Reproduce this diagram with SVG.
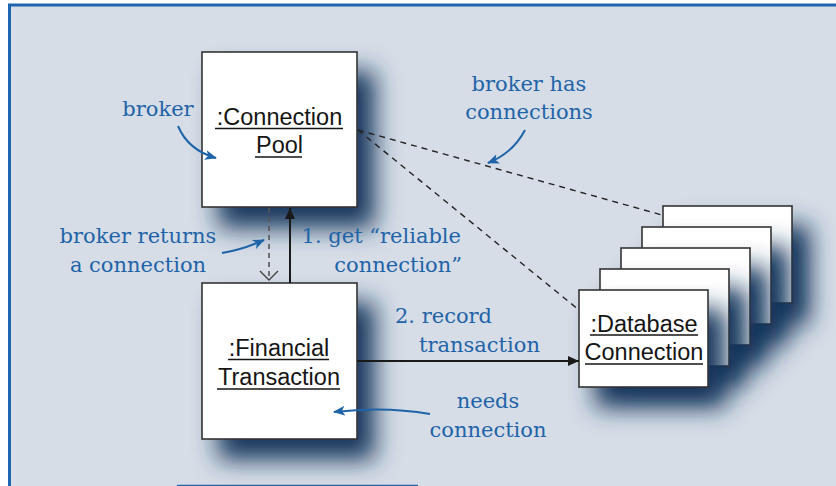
<svg xmlns="http://www.w3.org/2000/svg" width="836" height="486" viewBox="0 0 836 486">
<style>
.box{fill:#fff;stroke:#333;stroke-width:1.6;filter:url(#sh)}
.lbl{font-family:"Liberation Sans",Arial,sans-serif;font-size:23.5px;fill:#151515;text-anchor:middle}
.ul{stroke:#151515;stroke-width:1.3}
.note{font-family:"DejaVu Serif","Liberation Serif",serif;font-size:21px;fill:#1f64a8}
.mid{text-anchor:middle}
.end{text-anchor:end}
.dash{stroke:#222;stroke-width:1.4;stroke-dasharray:6 5;fill:none}
.solid{stroke:#1a1a1a;stroke-width:2;fill:none}
.curve{stroke:#1f64a8;stroke-width:2;fill:none;marker-end:url(#ba)}
</style>
<defs>
<filter id="sh" x="-50%" y="-50%" width="220%" height="220%">
<feGaussianBlur in="SourceAlpha" stdDeviation="12"/>
<feOffset dx="17" dy="20" result="b"/>
<feFlood flood-color="#16365c" flood-opacity="1"/>
<feComposite in2="b" operator="in"/>
<feMerge><feMergeNode/><feMergeNode in="SourceGraphic"/></feMerge>
</filter>
<marker id="fa" markerWidth="12" markerHeight="12" refX="11" refY="5" orient="auto" markerUnits="userSpaceOnUse">
<path d="M0,0 L11,5 L0,10 z" fill="#1a1a1a"/>
</marker>
<marker id="va" markerWidth="20" markerHeight="20" refX="10" refY="10" orient="auto" markerUnits="userSpaceOnUse">
<path d="M1,1 L10,10 L1,19" fill="none" stroke="#444" stroke-width="1.4"/>
</marker>
<marker id="ba" markerWidth="14" markerHeight="12" refX="11" refY="5" orient="auto" markerUnits="userSpaceOnUse">
<path d="M0,0 L12,5 L0,10 L3,5 z" fill="#1f64a8"/>
</marker>
</defs>
<rect x="0" y="0" width="836" height="486" fill="#fff"/>
<rect x="9" y="4" width="827" height="482" fill="#d6dde7"/>
<line x1="8" y1="5" x2="836" y2="5" stroke="#1e64ae" stroke-width="3"/>
<line x1="9.5" y1="4" x2="9.5" y2="486" stroke="#1e64ae" stroke-width="3"/>
<line x1="177" y1="485.5" x2="418" y2="485.5" stroke="#1e64ae" stroke-width="1.5"/>

<g id="connection-pool">
<rect class="box" x="202" y="52" width="155" height="155"/>
<text class="lbl" x="279.5" y="125">:Connection</text>
<line class="ul" x1="215" y1="128.5" x2="343" y2="128.5"/>
<text class="lbl" x="279.5" y="153">Pool</text>
<line class="ul" x1="255" y1="157" x2="302" y2="157"/>
</g>

<g id="financial-transaction">
<rect class="box" x="202" y="283" width="155" height="156"/>
<text class="lbl" x="279" y="356">:Financial</text>
<line class="ul" x1="228" y1="359.5" x2="329" y2="359.5"/>
<text class="lbl" x="279" y="385">Transaction</text>
<line class="ul" x1="217" y1="389" x2="340" y2="389"/>
</g>

<g id="database-connection">
<rect class="box" x="663" y="206" width="129" height="97"/>
<rect class="box" x="642" y="227" width="129" height="97"/>
<rect class="box" x="621" y="248" width="129" height="97"/>
<rect class="box" x="600" y="269" width="129" height="97"/>
<rect class="box" x="579" y="290" width="129" height="97"/>
<text class="lbl" x="644" y="331.5">:Database</text>
<line class="ul" x1="590" y1="335" x2="698" y2="335"/>
<text class="lbl" x="644" y="360">Connection</text>
<line class="ul" x1="585" y1="364" x2="703" y2="364"/>
</g>

<g id="connectors">
<line class="dash" x1="358" y1="130" x2="662" y2="215"/>
<line class="dash" x1="358" y1="130" x2="579" y2="310"/>
<line x1="269" y1="208" x2="269" y2="280" stroke="#555" stroke-width="1.6" stroke-dasharray="5 4" marker-end="url(#va)"/>
<line class="solid" x1="290" y1="283" x2="290" y2="208" marker-end="url(#fa)"/>
<line class="solid" x1="357" y1="361" x2="579" y2="361" marker-end="url(#fa)"/>
</g>

<g id="annotations">
<text class="note mid" x="158" y="116">broker</text>
<path class="curve" d="M178,126 Q188,150 216,158"/>
<text class="note mid" x="529" y="91">broker has</text>
<text class="note mid" x="529" y="119">connections</text>
<path class="curve" d="M525,130 Q513,153 488,163"/>
<text class="note mid" x="138" y="243">broker returns</text>
<text class="note mid" x="138" y="272">a connection</text>
<path class="curve" d="M222,253 Q242,250 264,240"/>
<text class="note end" x="461" y="243">1. get “reliable</text>
<text class="note end" x="462" y="272">connection”</text>
<text class="note" x="395" y="323">2. record</text>
<text class="note" x="419" y="352">transaction</text>
<text class="note mid" x="488" y="408">needs</text>
<text class="note mid" x="488" y="437">connection</text>
<path class="curve" d="M430,414 Q385,406 334,412"/>
</g>
</svg>
